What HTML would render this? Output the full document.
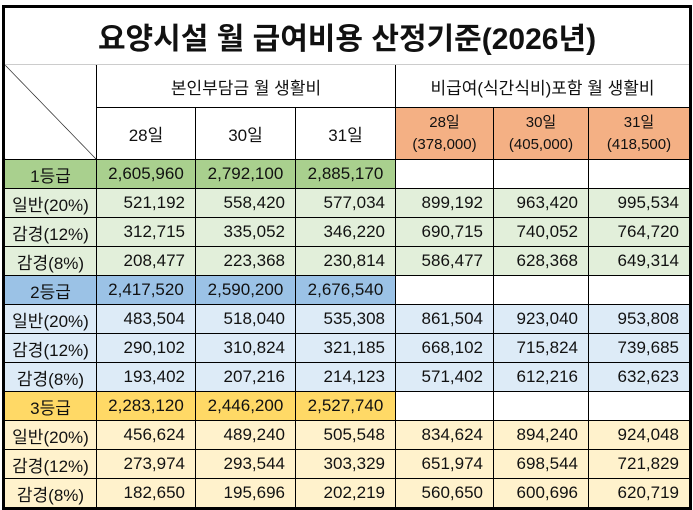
<!DOCTYPE html>
<html><head><meta charset="utf-8"><style>
body{margin:0;width:693px;height:510px;background:#fff;overflow:hidden;font-family:"Liberation Sans","Noto Sans CJK KR",sans-serif;}
table{position:absolute;left:2px;top:5px;border-collapse:collapse;table-layout:fixed;border:3px solid #000;}
td{border:1px solid #000;padding:0;font-size:17px;text-align:center;color:#111;white-space:nowrap;overflow:hidden}
td.n{text-align:right;padding-right:10px}
.t{font-size:30px;font-weight:bold;height:56px;border-bottom:1px solid #ccc}
.g1{background:#a9d08e}.l1{background:#e2efda}
.g2{background:#9bc2e6}.l2{background:#ddebf7}
.g3{background:#ffd966}.l3{background:#fff2cc}
.o{background:#f4b084;font-size:15px;line-height:22px}
tr.d td{height:28px}
</style></head><body>
<table>
<colgroup><col style="width:93px"><col style="width:99px"><col style="width:100px"><col style="width:100px"><col style="width:98px"><col style="width:95px"><col style="width:102px"></colgroup>
<tr><td class="t" colspan="7">요양시설 월 급여비용 산정기준(2026년)</td></tr>
<tr><td rowspan="2" style="background:linear-gradient(to top right,#fff calc(50% - 0.6px),#000 50%,#fff calc(50% + 0.6px))"></td><td colspan="3" style="height:42px">본인부담금 월 생활비</td><td colspan="3">비급여(식간식비)포함 월 생활비</td></tr>
<tr><td style="height:51px">28일</td><td>30일</td><td>31일</td><td class="o">28일<br>(378,000)</td><td class="o">30일<br>(405,000)</td><td class="o">31일<br>(418,500)</td></tr>
<tr class="d"><td class="g1">1등급</td><td class="g1">2,605,960</td><td class="g1">2,792,100</td><td class="g1">2,885,170</td><td></td><td></td><td></td></tr>
<tr class="d l1"><td>일반(20%)</td><td class="n">521,192</td><td class="n">558,420</td><td class="n">577,034</td><td class="n">899,192</td><td class="n">963,420</td><td class="n">995,534</td></tr>
<tr class="d l1"><td>감경(12%)</td><td class="n">312,715</td><td class="n">335,052</td><td class="n">346,220</td><td class="n">690,715</td><td class="n">740,052</td><td class="n">764,720</td></tr>
<tr class="d l1"><td>감경(8%)</td><td class="n">208,477</td><td class="n">223,368</td><td class="n">230,814</td><td class="n">586,477</td><td class="n">628,368</td><td class="n">649,314</td></tr>
<tr class="d"><td class="g2">2등급</td><td class="g2">2,417,520</td><td class="g2">2,590,200</td><td class="g2">2,676,540</td><td></td><td></td><td></td></tr>
<tr class="d l2"><td>일반(20%)</td><td class="n">483,504</td><td class="n">518,040</td><td class="n">535,308</td><td class="n">861,504</td><td class="n">923,040</td><td class="n">953,808</td></tr>
<tr class="d l2"><td>감경(12%)</td><td class="n">290,102</td><td class="n">310,824</td><td class="n">321,185</td><td class="n">668,102</td><td class="n">715,824</td><td class="n">739,685</td></tr>
<tr class="d l2"><td>감경(8%)</td><td class="n">193,402</td><td class="n">207,216</td><td class="n">214,123</td><td class="n">571,402</td><td class="n">612,216</td><td class="n">632,623</td></tr>
<tr class="d"><td class="g3">3등급</td><td class="g3">2,283,120</td><td class="g3">2,446,200</td><td class="g3">2,527,740</td><td></td><td></td><td></td></tr>
<tr class="d l3"><td>일반(20%)</td><td class="n">456,624</td><td class="n">489,240</td><td class="n">505,548</td><td class="n">834,624</td><td class="n">894,240</td><td class="n">924,048</td></tr>
<tr class="d l3"><td>감경(12%)</td><td class="n">273,974</td><td class="n">293,544</td><td class="n">303,329</td><td class="n">651,974</td><td class="n">698,544</td><td class="n">721,829</td></tr>
<tr class="d l3"><td>감경(8%)</td><td class="n">182,650</td><td class="n">195,696</td><td class="n">202,219</td><td class="n">560,650</td><td class="n">600,696</td><td class="n">620,719</td></tr>
</table>
</body></html>
